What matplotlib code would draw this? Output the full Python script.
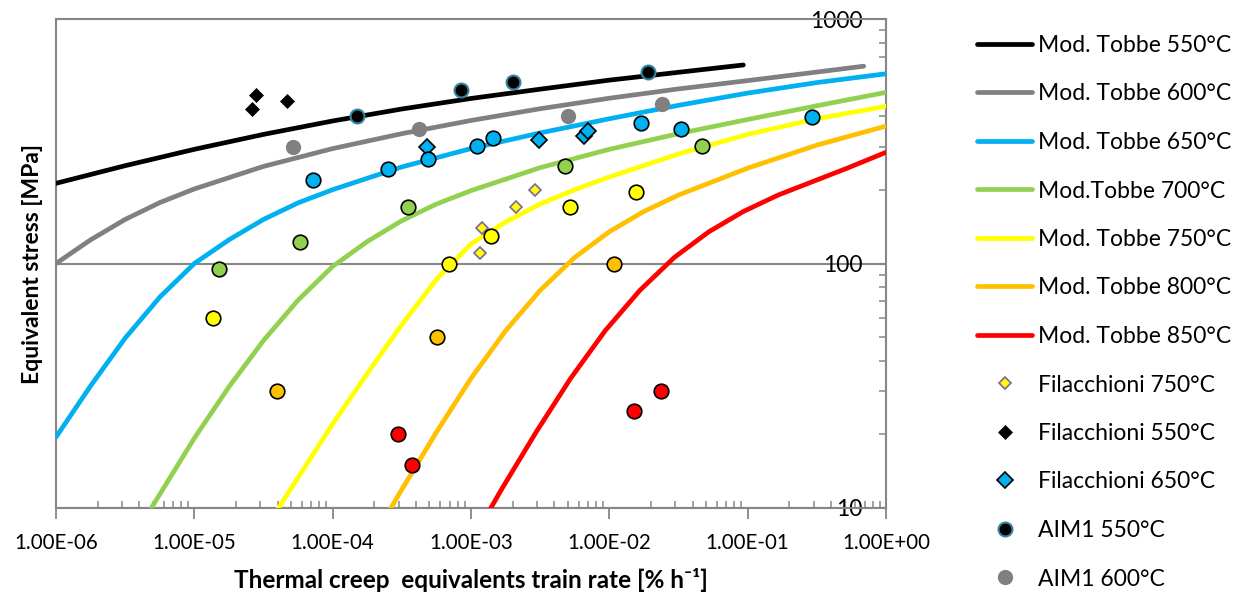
import matplotlib
matplotlib.use("Agg")
import matplotlib.pyplot as plt
from matplotlib.ticker import NullFormatter, FuncFormatter, LogLocator

plt.rcParams['font.family'] = ['Lato', 'DejaVu Sans']

# Mod. Tobbe model curves: strain rate [%/h] vs stress [MPa]
t550_rate = [1e-6, 3.16e-6, 1e-5, 3.16e-5, 1e-4, 3.16e-4, 1e-3, 3.16e-3, 1e-2, 3.16e-2, 9.3e-2]
t550_stress = [212.8, 251.2, 293.1, 337.3, 382.8, 428.5, 473.2, 516.4, 562.3, 605.3, 648.6]

t600_rate = [1e-6, 1.78e-6, 3.16e-6, 5.62e-6, 1e-5, 3.16e-5, 1e-4, 3.16e-4, 1e-3, 3.16e-3,
             1e-2, 3.16e-2, 0.1, 0.316, 0.69]
t600_stress = [100, 125.0, 151.4, 177.4, 201.8, 249.5, 295.1, 339.6, 384.6, 429.5,
               474.2, 517.6, 559.8, 606.7, 641.2]

t650_rate = [1e-6, 1.78e-6, 3.16e-6, 5.62e-6, 1e-5, 1.78e-5, 3.16e-5, 5.62e-5, 1e-4, 3.16e-4,
             1e-3, 3.16e-3, 1e-2, 3.16e-2, 0.1, 0.316, 1.0]
t650_stress = [19.5, 31.6, 49.5, 72.8, 100, 125.0, 151.4, 177.0, 200.4, 248.3,
               295.1, 342.0, 390.8, 443.6, 497.7, 549.5, 597.0]

t700_rate = [4.57e-6, 1e-5, 1.78e-5, 3.16e-5, 5.62e-5, 1e-4, 1.78e-4, 3.16e-4, 5.62e-4, 1e-3,
             3.16e-3, 1e-2, 3.16e-2, 0.1, 0.316, 1.0]
t700_stress = [9.4, 19.3, 31.3, 48.4, 70.8, 97.3, 123.0, 149.6, 175.0, 198.6,
               246.6, 293.1, 339.6, 388.2, 441.6, 501.0]

t750_rate = [3.8e-5, 5.62e-5, 1e-4, 1.78e-4, 3.16e-4, 5.62e-4, 1e-3, 1.78e-3, 3.16e-3, 5.62e-3,
             1e-2, 3.16e-2, 0.1, 0.316, 1.0]
t750_stress = [9.44, 13.3, 22.1, 35.5, 56.2, 86.1, 120.2, 147.9, 175.0, 200.4,
               225.9, 280.5, 337.3, 390.8, 439.5]

t800_rate = [2.51e-4, 3.16e-4, 5.62e-4, 1e-3, 1.78e-3, 3.16e-3, 5.62e-3, 1e-2, 1.78e-2, 3.16e-2,
             0.1, 0.316, 1.0]
t800_stress = [9.53, 11.9, 20.4, 33.9, 53.1, 77.6, 105.9, 134.9, 163.3, 190.5,
               245.5, 304.8, 364.8]

t850_rate = [1.32e-3, 1.66e-3, 2.95e-3, 5.25e-3, 9.33e-3, 1.66e-2, 2.95e-2, 5.25e-2, 9.33e-2,
             0.166, 0.525, 1.0]
t850_stress = [9.5, 11.9, 20.4, 33.9, 53.1, 77.6, 105.9, 134.9, 163.3,
               190.5, 245.5, 285.0]

# experimental points
fil750_rate = [1.16e-3, 1.2e-3, 2.1e-3, 2.9e-3]
fil750_stress = [110, 140, 170, 200]
fil550_rate = [2.6e-5, 2.8e-5, 4.7e-5]
fil550_stress = [430, 490, 460]
fil650_rate = [4.8e-4, 3.1e-3, 6.6e-3, 7.0e-3]
fil650_stress = [300, 320, 333, 349]
aim550_rate = [1.5e-4, 8.5e-4, 2.0e-3, 1.9e-2]
aim550_stress = [400, 510, 550, 605]
aim600_rate = [5.2e-5, 4.2e-4, 5.0e-3, 2.4e-2]
aim600_stress = [300, 355, 400, 450]
aim650_rate = [7.2e-5, 2.5e-4, 4.9e-4, 1.1e-3, 1.45e-3, 1.7e-2, 3.3e-2, 0.29]
aim650_stress = [220, 243, 267, 303, 327, 377, 354, 396]
aim700_rate = [1.5e-5, 5.8e-5, 3.5e-4, 4.8e-3, 4.7e-2]
aim700_stress = [95, 122, 170, 250, 303]
aim750_rate = [1.36e-5, 6.9e-4, 1.4e-3, 5.2e-3, 1.56e-2]
aim750_stress = [60, 100, 130, 170, 197]
aim800_rate = [3.95e-5, 5.7e-4, 1.08e-2]
aim800_stress = [30, 50, 100]
aim850_rate = [2.95e-4, 3.75e-4, 1.5e-2, 2.37e-2]
aim850_stress = [20, 15, 25, 30]

y_ticks = [10, 100, 1000]
y_tick_labels = ['10', '100', '1000']

grey = '#868686'

fig = plt.figure(figsize=(12.47, 5.98), dpi=100)
ax = fig.add_axes([56 / 1247, 1 - 508 / 598, 830 / 1247, 489 / 598])
ax.set_xscale('log')
ax.set_yscale('log')

curves = [
    (t550_rate, t550_stress, 'black', 'Mod. Tobbe 550°C'),
    (t600_rate, t600_stress, '#808080', 'Mod. Tobbe 600°C'),
    (t650_rate, t650_stress, '#00B0F0', 'Mod. Tobbe 650°C'),
    (t700_rate, t700_stress, '#92D050', 'Mod.Tobbe 700°C'),
    (t750_rate, t750_stress, '#FFFF00', 'Mod. Tobbe 750°C'),
    (t800_rate, t800_stress, '#FFC000', 'Mod. Tobbe 800°C'),
    (t850_rate, t850_stress, '#FF0000', 'Mod. Tobbe 850°C'),
]
handles = []
for x, y, c, lab in curves:
    h, = ax.plot(x, y, color=c, lw=3.4, solid_capstyle='round',
                 solid_joinstyle='round', label=lab, zorder=3)
    handles.append(h)


def pts(x, y, marker, ms, face, edge, mew, lab):
    h, = ax.plot(x, y, ls='none', marker=marker, ms=ms, mfc=face, mec=edge,
                 mew=mew, label=lab, zorder=4)
    return h


handles.append(pts(fil750_rate, fil750_stress, 'D', 6, '#FFFF00', '#7F64A2', 1.2, 'Filacchioni 750°C'))
handles.append(pts(fil550_rate, fil550_stress, 'D', 7.5, 'black', 'black', 0.5, 'Filacchioni 550°C'))
handles.append(pts(fil650_rate, fil650_stress, 'D', 8.5, '#00B0F0', 'black', 1.2, 'Filacchioni 650°C'))
handles.append(pts(aim550_rate, aim550_stress, 'o', 10, 'black', '#31859C', 1.5, 'AIM1 550°C'))
handles.append(pts(aim600_rate, aim600_stress, 'o', 11, '#808080', '#808080', 0, 'AIM1 600°C'))
pts(aim650_rate, aim650_stress, 'o', 10.5, '#00B0F0', 'black', 1.2, 'AIM1 650°C')
pts(aim700_rate, aim700_stress, 'o', 10.5, '#92D050', 'black', 1.2, 'AIM1 700°C')
pts(aim750_rate, aim750_stress, 'o', 10.5, '#FFFF00', 'black', 1.2, 'AIM1 750°C')
pts(aim800_rate, aim800_stress, 'o', 10.5, '#FFC000', 'black', 1.2, 'AIM1 800°C')
pts(aim850_rate, aim850_stress, 'o', 10.5, '#FF0000', 'black', 1.2, 'AIM1 850°C')

ax.set_xlim(1e-6, 1)
ax.set_ylim(10, 1000)

for s in ax.spines.values():
    s.set_color(grey)
    s.set_linewidth(1.5)

ax.yaxis.grid(True, which='major', color=grey, lw=1.5, zorder=1)
ax.set_axisbelow(True)

# x axis
ax.xaxis.set_major_locator(LogLocator(base=10, numticks=10))
ax.xaxis.set_major_formatter(FuncFormatter(lambda v, p: f"{v:.2E}"))
ax.xaxis.set_minor_formatter(NullFormatter())
ax.tick_params(axis='x', which='major', direction='out', length=8, width=1.3,
               color=grey, labelsize=14.8, pad=10)
ax.tick_params(axis='x', which='minor', direction='in', length=5, width=1.1, color=grey)

# y axis on the right, labels inside the plot
ax.yaxis.tick_right()
ax.set_yticks(y_ticks)
ax.set_yticklabels(y_tick_labels, ha='right')
ax.yaxis.set_minor_formatter(NullFormatter())
ax.tick_params(axis='y', which='major', direction='in', length=6, width=1.3,
               color=grey, labelsize=16.5, pad=-17)
ax.tick_params(axis='y', which='minor', direction='in', length=5, width=1.1, color=grey)

ax.set_ylabel('Equivalent stress [MPa]', fontsize=16.5, fontweight='bold')
ax.yaxis.set_label_position('left')
ax.yaxis.set_label_coords(-0.016, 0.5)
ax.set_xlabel('Thermal creep  equivalents train rate [% h⁻¹]', fontsize=17.5, fontweight='bold')
ax.xaxis.set_label_coords(0.5, -0.122)

fig.legend(handles=handles, loc='upper left', bbox_to_anchor=(977 / 1247, 1 - 35 / 598),
           frameon=False, fontsize=16.5, handlelength=2.4, handletextpad=0.25,
           labelspacing=1.2, borderpad=0, borderaxespad=0, numpoints=1)

fig.savefig('out.png', dpi=100)
